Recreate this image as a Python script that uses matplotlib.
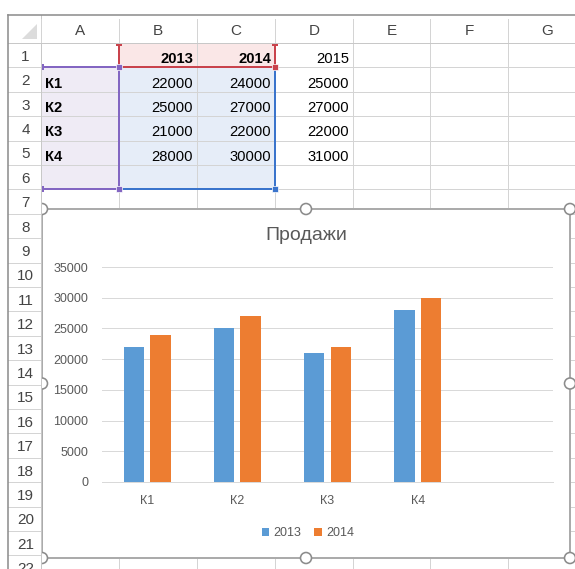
import matplotlib
matplotlib.use("Agg")
import matplotlib.pyplot as plt
from matplotlib.patches import Rectangle, Circle, Polygon

plt.rcParams["font.family"] = ["Liberation Sans", "DejaVu Sans"]

# ---- sheet data ----
col_names = ["A", "B", "C", "D", "E", "F", "G"]
row_labels = ["К1", "К2", "К3", "К4"]
years = ["2013", "2014", "2015"]
sales_2013 = [22000, 25000, 21000, 28000]
sales_2014 = [24000, 27000, 22000, 30000]
sales_2015 = [25000, 27000, 22000, 31000]

# ---- chart data (range A1:C6, last row empty) ----
chart_title = "Продажи"
chart_categories = ["К1", "К2", "К3", "К4", ""]
chart_series = {"2013": sales_2013, "2014": sales_2014}
y_ticks = [0, 5000, 10000, 15000, 20000, 25000, 30000, 35000]

W, H = 575, 569
PX = 0.72  # points per pixel at dpi 100

fig = plt.figure(figsize=(W / 100, H / 100), dpi=100)
bg = fig.add_axes([0, 0, 1, 1])
bg.set_xlim(0, W)
bg.set_ylim(H, 0)
bg.axis("off")

col_edges = [41, 119, 197, 275, 353, 430, 508, 586]
LEFT, HDR_TOP, HDR_BOT, ROW_H, N_ROWS = 8, 15, 43, 24.4, 23


def row_top(i):
    return HDR_BOT + (i - 1) * ROW_H


GRID = "#d4d4d4"
HDR_TXT = "#444444"

# selection fills
bg.add_patch(Rectangle((col_edges[0], row_top(2)), col_edges[1] - col_edges[0],
                       row_top(7) - row_top(2), fc="#efebf5", ec="none", zorder=1))
bg.add_patch(Rectangle((col_edges[1], row_top(2)), col_edges[3] - col_edges[1],
                       row_top(7) - row_top(2), fc="#e6edf8", ec="none", zorder=1))
bg.add_patch(Rectangle((col_edges[1], row_top(1)), col_edges[3] - col_edges[1],
                       ROW_H, fc="#fae7e7", ec="none", zorder=1))

# cell gridlines
for i in range(1, N_ROWS + 1):
    bg.plot([col_edges[0], W], [row_top(i), row_top(i)], color=GRID, lw=1 * PX, zorder=2)
for x in col_edges:
    bg.plot([x, x], [HDR_BOT, H], color=GRID, lw=1 * PX, zorder=2)


def cell_right(col):
    return col_edges[col + 1] - 4


def baseline(row):
    return row_top(row + 1) - 4.3


# cell contents
cell_fs = 10.6
for j, y in enumerate(years):
    bg.text(cell_right(j + 1), baseline(1), y, ha="right", va="baseline",
            fontsize=cell_fs, fontweight="bold" if j < 2 else "normal",
            color="#000000", zorder=3)
for i, lab in enumerate(row_labels):
    r = i + 2
    bg.text(col_edges[0] + 4, baseline(r), lab, ha="left", va="baseline",
            fontsize=cell_fs, fontweight="bold", color="#000000", zorder=3)
    for j, vals in enumerate([sales_2013, sales_2014, sales_2015]):
        bg.text(cell_right(j + 1), baseline(r), str(vals[i]), ha="right",
                va="baseline", fontsize=cell_fs, color="#000000", zorder=3)

# selection borders
PURPLE, RED, BLUE = "#8366c2", "#c9434c", "#3a74cc"
LWB = 2 * PX
x0, x1, x3 = col_edges[0] + 2, col_edges[1], col_edges[3]
y1, y2, y7 = row_top(1) + 2, row_top(2), row_top(7)
bg.plot([x0, x1], [y2, y2], color=PURPLE, lw=LWB, zorder=4)
bg.plot([x0, x1], [y7, y7], color=PURPLE, lw=LWB, zorder=4)
bg.plot([x1, x1], [y2, y7], color=PURPLE, lw=LWB, zorder=4)
bg.plot([x0, x0], [y2 - 2, y2 + 2], color=PURPLE, lw=LWB, zorder=4)
bg.plot([x0, x0], [y7 - 2, y7 + 2], color=PURPLE, lw=LWB, zorder=4)
bg.plot([x1, x3], [y7, y7], color=BLUE, lw=LWB, zorder=4)
bg.plot([x3, x3], [y2, y7], color=BLUE, lw=LWB, zorder=4)
bg.plot([x1, x3], [y2, y2], color=RED, lw=LWB, zorder=4.5)
bg.plot([x1, x1], [y1, y2], color=RED, lw=LWB, zorder=4.5)
bg.plot([x3, x3], [y1, y2], color=RED, lw=LWB, zorder=4.5)
for xx in (x1, x3):
    bg.plot([xx - 2, xx + 2], [y1, y1], color=RED, lw=LWB, zorder=4.5)
for (cx, cy, c) in [(x1, y2, PURPLE), (x1, y7, PURPLE), (x3, y2, RED), (x3, y7, BLUE)]:
    bg.add_patch(Rectangle((cx - 3, cy - 3), 6, 6, fc=c, ec="white", lw=0.5, zorder=5))

# embedded chart frame and sizing handles
CX0, CY0, CX1, CY1 = 42, 209, 570, 558
bg.add_patch(Rectangle((CX0, CY0), CX1 - CX0, CY1 - CY0, fc="white",
                       ec="#ababab", lw=2 * PX, zorder=6))
cxm, cym = (CX0 + CX1) / 2, (CY0 + CY1) / 2
for hx, hy in [(CX0, CY0), (cxm, CY0), (CX1, CY0), (CX0, cym), (CX1, cym),
               (CX0, CY1), (cxm, CY1), (CX1, CY1)]:
    bg.add_patch(Circle((hx, hy), 5.5, fc="white", ec="#8c8c8c", lw=1.6 * PX, zorder=7))

# row header
bg.add_patch(Rectangle((LEFT, HDR_BOT), col_edges[0] - LEFT, H - HDR_BOT,
                       fc="white", ec="none", zorder=8))
for i in range(1, N_ROWS + 1):
    bg.plot([LEFT, col_edges[0]], [row_top(i), row_top(i)], color=GRID, lw=1 * PX, zorder=9)
    bg.text((LEFT + col_edges[0]) / 2 + 1, row_top(i) + ROW_H / 2 + 1.5, str(i),
            ha="center", va="center", fontsize=11, color=HDR_TXT, zorder=9)
bg.plot([col_edges[0], col_edges[0]], [HDR_TOP, H], color="#c8c8c8", lw=1 * PX, zorder=9)

# column header
bg.add_patch(Rectangle((LEFT, HDR_TOP), W - LEFT, HDR_BOT - HDR_TOP,
                       fc="white", ec="none", zorder=8))
for x in col_edges:
    bg.plot([x, x], [HDR_TOP + 4, HDR_BOT], color=GRID, lw=1 * PX, zorder=9)
for k, name in enumerate(col_names):
    bg.text((col_edges[k] + col_edges[k + 1]) / 2, 31, name, ha="center",
            va="center", fontsize=11, color=HDR_TXT, zorder=9)
bg.plot([LEFT, W], [HDR_BOT, HDR_BOT], color="#c8c8c8", lw=1 * PX, zorder=9)
bg.add_patch(Polygon([(37, 24), (37, 39), (22, 39)], closed=True, fc="#dcdcdc",
                     ec="none", zorder=9))

# outer window border
bg.plot([LEFT, W], [HDR_TOP, HDR_TOP], color="#8f8f8f", lw=1.6 * PX, zorder=10)
bg.plot([LEFT, LEFT], [HDR_TOP, H], color="#8f8f8f", lw=1.6 * PX, zorder=10)

# ---- the column chart ----
TXT = "#595959"
BAR_COLORS = {"2013": "#5b9bd5", "2014": "#ed7d31"}
ax = fig.add_axes([102 / W, 1 - 482 / H, (553 - 102) / W, (482 - 267) / H])
ax.set_facecolor("none")
width, offset = 0.225, 0.147
for k, (name, vals) in enumerate(chart_series.items()):
    xs = [i + (-offset if k == 0 else offset) for i in range(len(vals))]
    ax.bar(xs, vals, width=width, color=BAR_COLORS[name], label=name, zorder=3)
ax.set_xlim(-0.5, len(chart_categories) - 0.5)
ax.set_ylim(0, 35000)
ax.set_yticks(y_ticks)
ax.set_yticklabels([str(v) for v in y_ticks])
ax.set_xticks(range(len(chart_categories)))
ax.set_xticklabels(chart_categories)
for s in ax.spines.values():
    s.set_visible(False)
ax.yaxis.grid(True, color="#d9d9d9", lw=1 * PX, zorder=0)
ax.axhline(0, color="#d9d9d9", lw=1 * PX, clip_on=False, zorder=1)
ax.tick_params(axis="y", length=0, pad=10, labelsize=9, labelcolor=TXT)
ax.tick_params(axis="x", length=0, pad=9.4, labelsize=9, labelcolor=TXT)

fig.text(306 / W, 1 - 236 / H, chart_title, ha="center", va="center",
         fontsize=14, color=TXT)
h, l = ax.get_legend_handles_labels()
fig.legend(h, l, loc="center", bbox_to_anchor=(308 / W, 1 - 533 / H), ncol=2,
           frameon=False, fontsize=9, handlelength=0.6, handleheight=0.6,
           handletextpad=0.35, columnspacing=1.0, labelcolor=TXT)

fig.savefig("out.png", dpi=100)
